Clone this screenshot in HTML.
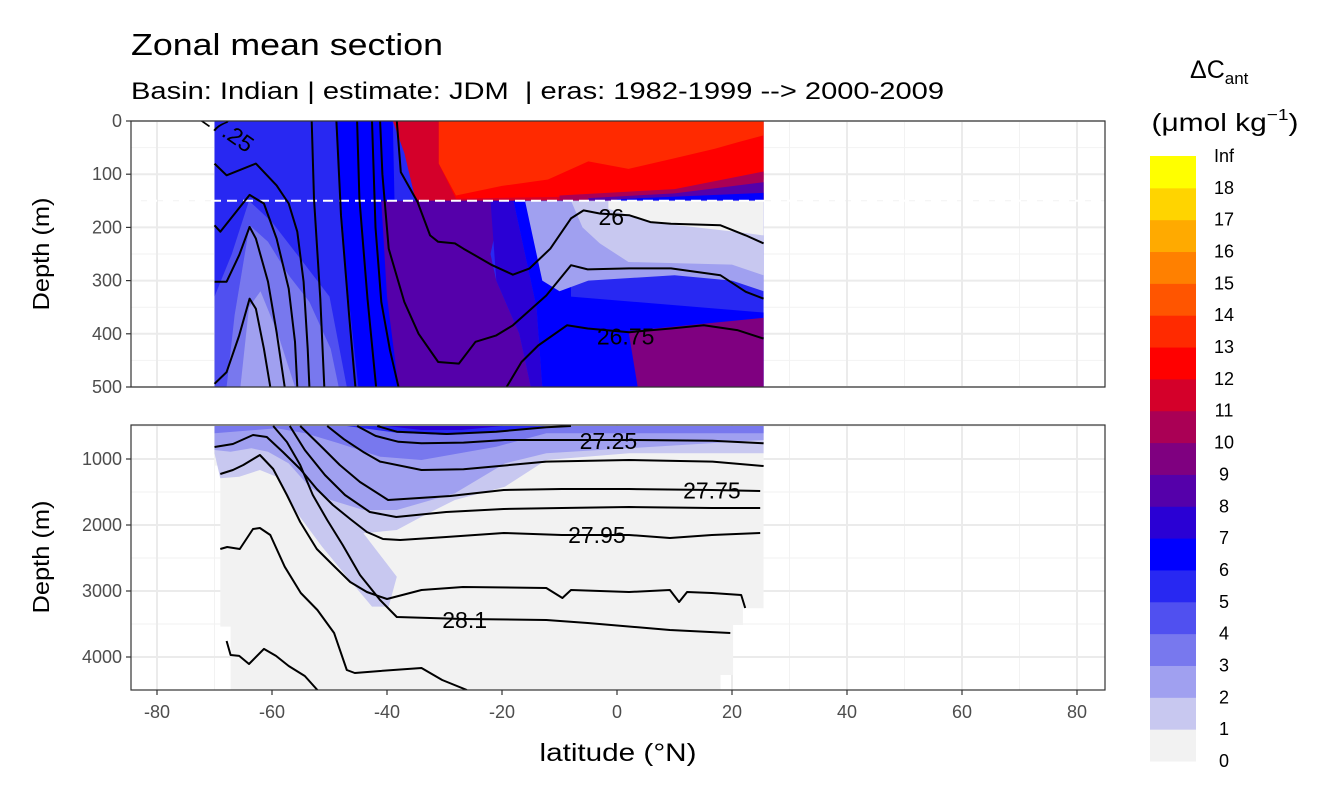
<!DOCTYPE html>
<html><head><meta charset="utf-8"><style>
html,body{margin:0;padding:0;background:#fff;}
svg{display:block;font-family:"Liberation Sans",sans-serif;}
</style></head><body>
<svg id="chart" width="1344" height="806" viewBox="0 0 1344 806">
<text x="131" y="55" font-size="31" textLength="312" lengthAdjust="spacingAndGlyphs" fill="#000">Zonal mean section</text>
<text x="131" y="99" font-size="24" textLength="813" lengthAdjust="spacingAndGlyphs" fill="#000" xml:space="preserve">Basin: Indian | estimate: JDM  | eras: 1982-1999 --&gt; 2000-2009</text>
<g id="gTop"></g>
<g id="gBot"></g>
<g id="gAxes"></g>
<text transform="translate(49,254) rotate(-90)" text-anchor="middle" font-size="23" textLength="113" lengthAdjust="spacingAndGlyphs">Depth (m)</text>
<text transform="translate(49,557) rotate(-90)" text-anchor="middle" font-size="23" textLength="113" lengthAdjust="spacingAndGlyphs">Depth (m)</text>
<text x="618" y="761" text-anchor="middle" font-size="25" textLength="157" lengthAdjust="spacingAndGlyphs">latitude (°N)</text>
<g>
<text x="1190" y="78" font-size="25">ΔC<tspan font-size="17" dy="6">ant</tspan></text>
<text x="1225" y="131" text-anchor="middle" font-size="25" textLength="147" lengthAdjust="spacingAndGlyphs">(μmol kg<tspan font-size="16" dy="-11">−1</tspan><tspan dy="11">)</tspan></text>
<g id="gLeg"></g>
</g>
</svg>
<script>
const NS="http://www.w3.org/2000/svg";
// colour scale bins (0-1 ... 18-Inf)
const binColors=["#f2f2f2","#c8c8f0","#a0a0f0","#7878ee","#5050f0","#2828f2","#0000ff","#2a00d4","#5500aa","#7f0080","#aa0055","#d4002a","#ff0000","#ff2a00","#ff5500","#ff8000","#ffaa00","#ffd400","#ffff00"];
const binLabels=["0","1","2","3","4","5","6","7","8","9","10","11","12","13","14","15","16","17","18","Inf"];
const latTicks=[-80,-60,-40,-20,0,20,40,60,80];
const topDepthTicks=[0,100,200,300,400,500];
const botDepthTicks=[1000,2000,3000,4000];

// filled regions upper panel: [binIndex, polygon of [lat,depth]]
const topFillBins=[5,4,3,2,6,11,12,13,10,8,6,8,7,6,9,2,1,0];
const topFillPolys=[
 [[-70,0],[25.5,0],[25.5,500],[-70,500]],
 [[-70,330],[-67,250],[-64,150],[-60,190],[-55,260],[-50,330],[-47,500],[-70,500]],
 [[-67.9,500],[-66.5,365],[-63.9,196],[-60.7,227],[-57.1,290],[-53.5,340],[-49.8,428],[-48.4,500]],
 [[-65.5,500],[-64,350],[-62,320],[-59,400],[-56,500]],
 [[-49,0],[-39,0],[-38,500],[-45,500],[-47,300]],
 [[-39,0],[25.5,0],[25.5,150],[-35,150],[-37,60]],
 [[-31,0],[25.5,0],[25.5,110],[18,130],[10,135],[2,140],[-12,143],[-28,146],[-31,80]],
 [[-31,0],[25.5,0],[25.5,27],[21,40],[17,52],[10,70],[2,90],[-5,76],[-12,110],[-20,122],[-28,140],[-31,80]],
 [[-10,140],[10,128],[25.5,95],[25.5,150],[-10,150]],
 [[-5,145],[10,136],[25.5,115],[25.5,150],[-5,150]],
 [[0,147],[25.5,135],[25.5,150],[0,150]],
 [[-41,150],[-20,150],[-22,250],[-21,300],[-17,400],[-15,500],[-38,500],[-40,330]],
 [[-22,150],[-18,150],[-16,250],[-14,350],[-13,500],[-15,500],[-17,400],[-21,300]],
 [[-18,150],[-8,150],[-8,330],[25.5,360],[25.5,500],[-13,500],[-14,350],[-16,250]],
 [[2,395],[25.5,370],[25.5,500],[3.6,500]],
 [[-16,150],[25.5,150],[25.5,320],[20,300],[10,290],[-5,300],[-10,320],[-13,300]],
 [[-8,150],[25.5,150],[25.5,290],[20,270],[2,265],[-3,230],[-6,200]],
 [[-1.5,150],[25.5,150],[25.5,215],[22,210],[5.8,190],[-1.5,165]]
];
// filled regions lower panel
const botFillBins=[0,1,2,3,5,7];
const botFillPolys=[
 [[-70,500],[25.5,500],[25.5,3262],[21.9,3262],[21.9,3515],[20.2,3515],[20.2,4272],[18,4272],[18,4500],[-67.2,4500],[-67.2,3540],[-69,3540],[-69,1100],[-70,1100]],
 [[-70,500],[25.5,500],[25.5,914],[2.1,914],[-12.3,1015],[-19.5,1419],[-28.2,1621],[-34,1874],[-38.3,2076],[-44.1,2126],[-38.3,2783],[-39.7,3237],[-42.6,3237],[-47,2783],[-51.3,2328],[-55.6,1823],[-59.2,1268],[-62.1,1166],[-65.7,1268],[-69,1293],[-70,914]],
 [[-70,500],[25.5,500],[25.5,712],[-12.3,914],[-19.5,1066],[-28.2,1520],[-38.3,1773],[-44.1,1773],[-49.8,1621],[-53.5,1419],[-57.1,1066],[-60.7,889],[-63.6,838],[-67.2,889],[-70,864]],
 [[-70,500],[25.5,500],[25.5,611],[-12.3,611],[-21,813],[-34,1015],[-41.2,965],[-48.4,762],[-54.2,611],[-59.2,535],[-70,611]],
 [[-47,500],[-12.3,500],[-19.5,586],[-29.6,636],[-38.3,601]],
 [[-40,500],[-20,500],[-27,560],[-34,560]]
];
// isopycnal contour lines (lat, depth)
const topLines=[
 [[-70,80],[-67.9,102],[-62.8,80],[-59.2,121],[-57.1,155],[-55.6,208],[-54.5,302],[-53.8,428],[-53.5,500]],
 [[-70,196],[-69,208],[-63.9,139],[-61.4,155],[-59.2,221],[-57.1,315],[-56,415],[-55.6,500]],
 [[-70,302],[-67.9,302],[-65.7,252],[-63.9,199],[-62.8,221],[-60.7,302],[-59.2,397],[-57.8,500]],
 [[-70,494],[-67.9,472],[-65.7,403],[-63.9,334],[-62.8,353],[-61.4,428],[-60.3,500]],
 [[-53.1,0],[-52.7,146],[-51.6,334],[-50.9,500]],
 [[-48.8,0],[-48,177],[-46.6,365],[-45.5,500]],
 [[-45.2,0],[-44.8,146],[-43.4,334],[-41.9,500]],
 [[-42.6,0],[-42,200],[-41,340],[-39.5,430],[-38,500]],
 [[-41.2,0],[-40.8,100],[-39.7,240],[-37,340],[-34.5,400],[-31.1,453],[-27.5,456],[-24.6,415],[-21,403],[-18.1,384],[-12.3,328],[-8,271],[-5.1,279],[2.1,277],[9.4,277],[18,290],[22.4,321],[25.5,334]],
 [[-38.3,0],[-37.6,96],[-34.7,152],[-32.5,215],[-31.1,227],[-28.2,230],[-26.7,240],[-21.7,271],[-18.1,289],[-15.2,277],[-11.6,240],[-8,183],[-5.8,168],[-2.9,174],[2.1,177],[5.8,190],[9.4,193],[18,196],[22.4,215],[25.5,230]],
 [[-19.2,500],[-16.6,453],[-13.7,422],[-8.7,384],[-5.1,390],[2.1,397],[9.4,390],[15.1,384],[20.9,393],[25.5,409]]
];
const botLines=[
 [[-41.7,500],[-38.3,586],[-29.6,621],[-21,586],[-12.3,520],[-8,500]],
 [[-45.2,500],[-42,650],[-38,740],[-34,762],[-26.7,752],[-19.5,712],[-12.3,712],[2.1,712],[16.6,722],[25.5,762]],
 [[-50.4,500],[-47.5,700],[-44,900],[-41.2,1040],[-34,1166],[-26.7,1156],[-12.3,1040],[2.1,1015],[16.6,1040],[25.5,1106]],
 [[-55.1,500],[-51.7,788],[-48.2,1091],[-44.7,1348],[-39.8,1621],[-29,1560],[-19.7,1470],[-9.6,1455],[2.1,1455],[16.5,1470],[24.9,1485]],
 [[-56.9,500],[-54.3,864],[-50.8,1242],[-47.3,1545],[-43,1803],[-38.4,1879],[-29.7,1803],[-19.7,1758],[-9.6,1742],[2.1,1727],[16.5,1742],[24.9,1742]],
 [[-70,818],[-66.8,773],[-63.3,636],[-60.9,667],[-58.1,894],[-55.1,1152],[-52.2,1455],[-49.4,1697],[-46.4,1909],[-43.5,2106],[-40.7,2212],[-37.7,2227],[-29.7,2182],[-19.7,2121],[-9.6,2151],[2.1,2151],[9.2,2197],[16.5,2151],[24.9,2121]],
 [[-69,1227],[-66.8,1167],[-65,1091],[-62.1,939],[-59.8,1152],[-57.4,1545],[-55.1,1954],[-52.2,2364],[-49.4,2606],[-46.4,2864],[-43.5,3015],[-40,3121],[-34,2985],[-26.8,2939],[-12.3,2954],[-9.5,3106],[-8,2985],[2.1,3015],[9.2,2985],[10.8,3167],[12.2,3015],[16.5,3030],[21.6,3061],[22.3,3258]],
 [[-59.8,500],[-57.4,742],[-55.1,1091],[-52.9,1545],[-50.4,1924],[-47.7,2303],[-44.7,2758],[-41.2,3136],[-38.3,3394],[-26.8,3424],[-12.3,3439],[-5.1,3485],[9.2,3591],[19.7,3636]],
 [[-69,2364],[-67.8,2333],[-65.6,2364],[-63.3,2061],[-62.1,2045],[-60.3,2151],[-57.8,2632],[-55,3030],[-52.1,3288],[-49.2,3636],[-47,4197],[-45.6,4242],[-41.2,4212],[-34,4166],[-30.4,4348],[-26.1,4500]],
 [[-67.9,3757],[-67.2,3969],[-65.7,3984],[-64,4106],[-61.4,3878],[-59.3,3984],[-57.1,4136],[-54.3,4288],[-52.1,4500]]
];
const topLabelDepths=[180,405];
const botLabelText=["27.25","27.75","27.95","28.1"];
const botLabelLat=[-1.5,16.5,-3.5,-26.5];
const botLabelDepth=[730,1480,2150,3440];
const boundaryDepth=150;

// scales
const PX0=131,PX1=1105;
const xS=lat=>617+(lat)*5.75;
const yT=d=>121+d*0.532;
const yB=d=>459+(d-1000)*0.066;
const T={top:121,bot:387}, B={top:425,bot:690};

function mk(tag,attrs,parent){const e=document.createElementNS(NS,tag);for(const k in attrs)e.setAttribute(k,attrs[k]);parent.appendChild(e);return e;}
const svg=document.getElementById('chart');
const defs=mk('defs',{},svg);
const c1=mk('clipPath',{id:'clipT'},defs);mk('rect',{x:PX0,y:T.top,width:PX1-PX0,height:T.bot-T.top},c1);
const c2=mk('clipPath',{id:'clipB'},defs);mk('rect',{x:PX0,y:B.top,width:PX1-PX0,height:B.bot-B.top},c2);

function panel(g,P,ys,majors,minors,clip){
  const bg=mk('rect',{x:PX0,y:P.top,width:PX1-PX0,height:P.bot-P.top,fill:'#fff'},g);
  
  
  for(let lat=-70;lat<=80;lat+=20){const l=mk('line',{x1:xS(lat),x2:xS(lat),y1:P.top,y2:P.bot,stroke:'#f2f2f2','stroke-width':1},g);
    }
  minors.forEach(d=>{const l=mk('line',{x1:PX0,x2:PX1,y1:ys(d),y2:ys(d),stroke:'#f2f2f2','stroke-width':1},g);
    });
  latTicks.forEach(lat=>{const l=mk('line',{x1:xS(lat),x2:xS(lat),y1:P.top,y2:P.bot,stroke:'#ebebeb','stroke-width':2},g);
    });
  majors.forEach(d=>{const l=mk('line',{x1:PX0,x2:PX1,y1:ys(d),y2:ys(d),stroke:'#ebebeb','stroke-width':2},g);
    });
  return mk('g',{'clip-path':'url(#'+clip+')'},g);
}
const pts=(arr,ys)=>arr.map(p=>xS(p[0]).toFixed(1)+','+ys(p[1]).toFixed(1)).join(' ');

// upper panel
const gT=panel(document.getElementById('gTop'),T,yT,topDepthTicks,[50,150,250,350,450],'clipT');
topFillPolys.forEach((poly,i)=>{const e=mk('polygon',{points:pts(poly,yT),fill:binColors[topFillBins[i]]},gT);
  
  });
const dash=mk('line',{x1:PX0,x2:PX1,y1:yT(boundaryDepth),y2:yT(boundaryDepth),stroke:'#fff','stroke-width':2,'stroke-dasharray':'10,6'},gT);


topLines.forEach(l=>{const e=mk('polyline',{points:pts(l,yT),fill:'none',stroke:'#000','stroke-width':2,'stroke-linejoin':'round'},gT);
  
  });
const tl0=mk('text',{x:xS(-1),y:yT(topLabelDepths[0])+8,'font-size':23,'text-anchor':'middle'},gT);tl0.textContent="26";

const tl1=mk('text',{x:xS(1.5),y:yT(topLabelDepths[1])+8,'font-size':23,'text-anchor':'middle'},gT);tl1.textContent="26.75";

const tl2=mk('text',{x:0,y:0,'font-size':23,'text-anchor':'middle',transform:'translate('+xS(-68.5)+','+(yT(30))+') rotate(35)'},gT);tl2.textContent="27.25";

mk('rect',{x:PX0,y:T.top,width:PX1-PX0,height:T.bot-T.top,fill:'none',stroke:'#333','stroke-width':1.2},document.getElementById('gTop'));

// lower panel
const gB=panel(document.getElementById('gBot'),B,yB,botDepthTicks,[500,1500,2500,3500,4500],'clipB');
botFillPolys.forEach((poly,i)=>{const e=mk('polygon',{points:pts(poly,yB),fill:binColors[botFillBins[i]]},gB);
  
  });
botLines.forEach(l=>{const e=mk('polyline',{points:pts(l,yB),fill:'none',stroke:'#000','stroke-width':2,'stroke-linejoin':'round'},gB);
  
  });
botLabelText.forEach((t,i)=>{const e=mk('text',{x:xS(botLabelLat[i]),y:yB(botLabelDepth[i])+8,'font-size':23,'text-anchor':'middle'},gB);e.textContent=t;
  
  });
mk('rect',{x:PX0,y:B.top,width:PX1-PX0,height:B.bot-B.top,fill:'none',stroke:'#333','stroke-width':1.2},document.getElementById('gBot'));

// axes
const gA=document.getElementById('gAxes');
function yTicks(vals,ys){vals.forEach(v=>{const y=ys(v);
  const tk=mk('line',{x1:126,x2:131,y1:y,y2:y,stroke:'#333','stroke-width':1.2},gA);
  
  const t=mk('text',{x:122,y:y+6,'font-size':18,'text-anchor':'end',fill:'#4d4d4d'},gA);t.textContent=v;
  });}
yTicks(topDepthTicks,yT);yTicks(botDepthTicks,yB);
latTicks.forEach(lat=>{const x=xS(lat);
  const tk=mk('line',{x1:x,x2:x,y1:690,y2:695,stroke:'#333','stroke-width':1.2},gA);
  
  const t=mk('text',{x:x,y:718,'font-size':18,'text-anchor':'middle',fill:'#4d4d4d'},gA);t.textContent=lat;
  });

// legend colourbar
const gL=document.getElementById('gLeg');
const LB_TOP=156,LB_BOT=761,bh=(LB_BOT-LB_TOP)/binColors.length;
binColors.forEach((c,i)=>{const r=mk('rect',{x:1150,y:LB_BOT-(i+1)*bh,width:46,height:bh+0.5,fill:c},gL);
  
  });
binLabels.forEach((t,i)=>{const e=mk('text',{x:1224,y:LB_BOT-i*bh+6,'font-size':18,'text-anchor':'middle',fill:'#000'},gL);e.textContent=t;
  
  });
</script>
</body></html>
